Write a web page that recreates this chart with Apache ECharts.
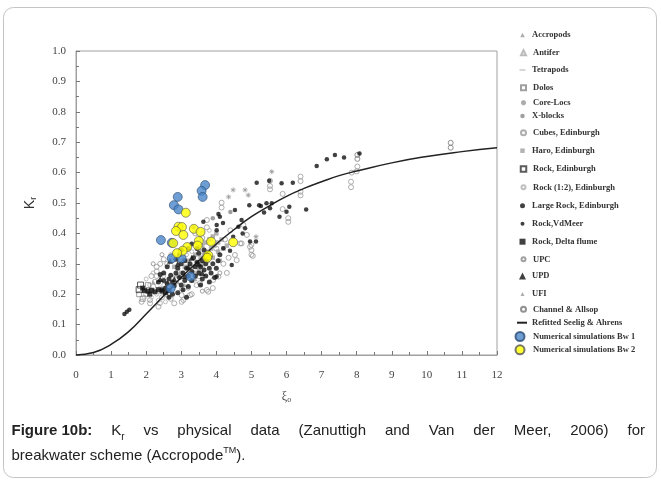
<!DOCTYPE html>
<html>
<head>
<meta charset="utf-8">
<script src="https://cdn.jsdelivr.net/npm/echarts@6/dist/echarts.min.js"></script>
<style>html,body{margin:0;padding:0;background:#fff;}#c{width:661px;height:481px;}</style>
</head>
<body>
<div id="c"></div>
<script>
// ---------- DATA ----------
const xTicks = [0,1,2,3,4,5,6,7,8,9,10,11,12];
const yTicks = [0,0.1,0.2,0.3,0.4,0.5,0.6,0.7,0.8,0.9,1.0];

const accropods = [[2.9,0.24],[3.2,0.27],[3.4,0.25],[2.7,0.23]];
const antifer = [[3.0,0.22],[3.5,0.26],[2.6,0.2]];
const tetrapods = [[3.3,0.24],[3.6,0.29],[2.8,0.26]];
const dolos = [[1.8,0.2],[2.05,0.23],[1.9,0.185]];
const coreLocs = [[5.58,0.603],[4.82,0.543],[4.91,0.526],[5.13,0.389],[4.48,0.543],[4.35,0.52]];
const xBlocks = [[3.9,0.45],[3.35,0.42],[4.4,0.47]];
const cubesEdinburgh = [[8.02,0.62],[8.0,0.604],[7.86,0.60],[7.84,0.57],[7.84,0.552],[6.4,0.587],[6.4,0.572],
  [6.4,0.537],[6.4,0.525],[5.53,0.545],[5.53,0.556],[5.89,0.53],[6.05,0.45],[6.05,0.438],[5.89,0.48],
  [5.0,0.362],[5.0,0.345],[5.0,0.33],[4.72,0.367],[4.87,0.395],[4.77,0.428],[5.53,0.573],[4.15,0.501],
  [4.15,0.485],[3.73,0.444],[3.73,0.42],[4.68,0.367],[4.96,0.356],[5.04,0.326],[4.58,0.312],[4.53,0.329],
  [4.06,0.258],[3.91,0.247],[3.73,0.214],[3.25,0.197],[3.01,0.197],[3.06,0.181],[2.3,0.29],[2.3,0.275],
  [2.3,0.26],[2.25,0.241],[2.11,0.181],[2.11,0.17],[1.87,0.175],[2.39,0.171],[2.35,0.159],[3.01,0.175],
  [3.44,0.23],[3.77,0.208],[3.53,0.236],[2.0,0.2],[2.2,0.225],[2.4,0.3],[2.5,0.315],[2.6,0.3],[2.15,0.26],
  [2.45,0.19],[2.7,0.185],[2.8,0.17],[3.3,0.2],[3.9,0.22],[4.2,0.3],[4.3,0.27],[4.35,0.32],[4.0,0.35],
  [3.85,0.37],[3.6,0.385],[3.4,0.4],[4.25,0.38],[4.4,0.41]];
const haro = [[3.4,0.33],[3.5,0.35],[3.6,0.36],[3.7,0.37],[3.8,0.38],[3.9,0.39],[4.0,0.4],[3.55,0.32],
  [3.65,0.33],[3.75,0.34],[3.85,0.35],[3.95,0.36],[4.05,0.37],[4.15,0.38],[3.45,0.3],[3.6,0.3],[3.75,0.31],
  [3.9,0.32],[4.05,0.34],[4.2,0.35],[3.3,0.29],[3.2,0.31],[3.1,0.29],[3.0,0.27],[2.9,0.26],[2.8,0.29],
  [3.35,0.27],[3.5,0.28],[4.1,0.31],[4.3,0.36]];
const rockEdinburgh = [[1.8,0.215],[1.84,0.23]];
const rock12 = [[2.0,0.25],[2.1,0.23],[2.2,0.21],[2.3,0.2],[2.4,0.22],[2.5,0.23],[2.2,0.27],[2.5,0.26],
  [2.6,0.21],[2.7,0.22],[2.35,0.18],[2.55,0.175],[1.95,0.19],[2.15,0.19],[2.75,0.31],[2.9,0.32],[3.0,0.32],
  [3.15,0.33],[2.7,0.33],[3.3,0.34],[3.6,0.4],[3.8,0.41]];
const largeRock = [[2.45,0.215],[2.55,0.22],[2.6,0.235],[2.65,0.25],[2.7,0.262],[2.75,0.24],[2.8,0.228],
  [2.85,0.27],[2.9,0.285],[2.95,0.255],[3.0,0.23],[3.0,0.30],[3.05,0.27],[3.1,0.245],[3.1,0.31],[3.15,0.285],
  [3.2,0.26],[3.2,0.225],[3.25,0.30],[3.3,0.275],[3.3,0.245],[3.35,0.32],[3.4,0.29],[3.4,0.26],[3.45,0.305],
  [3.5,0.27],[3.5,0.335],[3.55,0.29],[3.6,0.25],[3.6,0.31],[3.65,0.28],[3.7,0.3],[3.7,0.26],[3.75,0.325],
  [3.8,0.285],[3.85,0.27],[3.9,0.3],[3.95,0.255],[4.0,0.285],[4.05,0.31],[3.2,0.35],[3.3,0.365],[3.0,0.345],
  [2.85,0.315],[2.6,0.29],[2.5,0.27],[2.75,0.2],[2.9,0.205],[3.05,0.215],[2.65,0.19],[3.15,0.19],[2.5,0.245],
  [2.35,0.24],[2.4,0.265],[3.55,0.23],[3.8,0.24],[2.95,0.33],[3.45,0.35],[3.65,0.345],[4.1,0.33]];
const rockVdMeer = [[5.15,0.567],[5.51,0.573],[5.86,0.565],[6.18,0.567],[6.86,0.622],[7.15,0.644],[7.38,0.658],
  [7.64,0.65],[8.08,0.663],[4.94,0.493],[5.27,0.49],[5.36,0.469],[5.53,0.483],[5.58,0.499],[6.08,0.488],
  [6.0,0.471],[5.8,0.455],[6.56,0.479],[4.75,0.40],[4.96,0.373],[5.13,0.373],[5.22,0.493],[4.72,0.444],
  [4.06,0.464],[4.01,0.428],[3.63,0.438],[4.63,0.422],[4.82,0.417],[4.44,0.296],[4.39,0.343],[4.2,0.351],
  [4.53,0.477],[4.48,0.389],[4.19,0.434],[4.1,0.455],[4.01,0.41],[5.43,0.499],[4.01,0.258],
  [1.38,0.135],[1.45,0.142],[1.52,0.149]];
const rockDelta = [[1.95,0.212],[2.05,0.21],[2.15,0.213],[2.25,0.208],[2.35,0.215],[2.45,0.21],[2.55,0.205],
  [2.65,0.212],[1.9,0.22],[2.1,0.2]];
const upc = [[2.2,0.3],[2.45,0.33],[3.2,0.22],[3.6,0.21],[4.1,0.27]];
const upd = [[2.68,0.31],[2.9,0.3],[3.1,0.26],[3.3,0.32],[3.5,0.3],[2.8,0.25],[3.6,0.27],[2.4,0.25],[3.2,0.29],[3.7,0.32]];
const ufi = [[2.2,0.24],[2.6,0.24],[3.1,0.23]];
const channelAllsop = [[10.68,0.698],[10.68,0.682],[8.02,0.658],[8.02,0.645]];
const curveXi = [0,0.5,1,1.5,2,2.5,3,3.5,4,4.5,5,5.5,6,6.5,7,7.5,8,9,10,11,12];
const curveKr = [0,0.008,0.035,0.077,0.135,0.195,0.255,0.31,0.365,0.412,0.455,0.49,0.522,0.548,0.57,0.59,0.605,0.632,0.653,0.669,0.682];
const bw1 = [[3.68,0.559],[3.58,0.54],[3.61,0.52],[2.9,0.52],[2.79,0.493],[2.92,0.479],[2.42,0.378],[2.73,0.369],
  [2.73,0.318],[3.01,0.318],[3.27,0.258],[2.7,0.219]];
const bw2 = [[3.13,0.468],[2.92,0.422],[3.02,0.421],[2.85,0.408],[3.06,0.395],[2.77,0.368],[3.17,0.355],[3.04,0.343],
  [2.88,0.335],[3.36,0.415],[3.55,0.405],[3.5,0.375],[3.47,0.36],[3.85,0.373],[3.77,0.328],[3.74,0.32],[4.48,0.371]];

const legendNames = ['Accropods','Antifer','Tetrapods','Dolos','Core-Locs','X-blocks','Cubes, Edinburgh','Haro, Edinburgh',
  'Rock, Edinburgh','Rock (1:2), Edinburgh','Large Rock, Edinburgh','Rock,VdMeer','Rock, Delta flume','UPC','UPD','UFI',
  'Channel & Allsop','Refitted Seelig & Ahrens','Numerical simulations Bw 1','Numerical simulations Bw 2'];

// ---------- LAYOUT / STYLE ----------
const legendCenters = [35,52.7,70,87.7,102.7,116,132.7,150.7,169,187.3,205.7,223.7,241.7,259.3,276,294,309.3,322.7,336,349.3];
const open = (c)=>({color:'rgba(255,255,255,0)', borderColor:c, borderWidth:1});
const plus = 'path://M5,0L5,10M0,5L10,5M1.5,1.5L8.5,8.5M8.5,1.5L1.5,8.5';

const seriesDefs = [
  {name:legendNames[6], data:cubesEdinburgh, symbol:'circle', size:5, style:open('#9a9a9a'), icon:5},
  {name:legendNames[9], data:rock12, symbol:'circle', size:4, style:open('#b0b0b0'), icon:4},
  {name:legendNames[13], data:upc, symbol:'circle', size:4, style:open('#8a8a8a'), icon:4},
  {name:legendNames[16], data:channelAllsop, symbol:'circle', size:5, style:open('#777'), icon:5},
  {name:legendNames[3], data:dolos, symbol:'rect', size:5, style:open('#888'), icon:5},
  {name:legendNames[7], data:haro, symbol:'rect', size:4.5, style:{color:'#a0a0a0'}, icon:4.5},
  {name:legendNames[5], data:xBlocks, symbol:'circle', size:4.5, style:{color:'#888'}, icon:4.5},
  {name:legendNames[4], data:coreLocs, symbol:plus, size:5, style:{color:'#999', borderColor:'#999', borderWidth:1}, icon:5},
  {name:legendNames[0], data:accropods, symbol:'triangle', size:4.5, style:{color:'#999'}, icon:4.5},
  {name:legendNames[1], data:antifer, symbol:'triangle', size:5, style:open('#aaa'), icon:5},
  {name:legendNames[2], data:tetrapods, symbol:'rect', size:[6,1.2], style:{color:'#aaa'}, icon:[6,1.2]},
  {name:legendNames[15], data:ufi, symbol:'triangle', size:4, style:{color:'#999'}, icon:4},
];
const seriesDefs2 = [
  {name:legendNames[8], data:rockEdinburgh, symbol:'rect', size:6, style:open('#333'), icon:5.5},
  {name:legendNames[10], data:largeRock, symbol:'circle', size:5, style:{color:'#111'}, icon:5},
  {name:legendNames[11], data:rockVdMeer, symbol:'circle', size:4.5, style:{color:'#111'}, icon:4},
  {name:legendNames[12], data:rockDelta, symbol:'rect', size:5, style:{color:'#111'}, icon:6},
  {name:legendNames[14], data:upd, symbol:'triangle', size:6, style:{color:'#111'}, icon:7},
  {name:legendNames[18], data:bw1, symbol:'circle', size:9, style:{color:'#4a86c8', borderColor:'#2b4a70', borderWidth:0.8}, icon:9},
  {name:legendNames[19], data:bw2, symbol:'circle', size:9, style:{color:'#ffff00', borderColor:'#555', borderWidth:0.8}, icon:9},
];

const series = [];
const iconMap = {};
seriesDefs.forEach(d=>{
  series.push({type:'scatter', name:d.name, data:d.data, symbol:d.symbol, symbolSize:d.size, itemStyle:d.style, z:2});
  iconMap[d.name]=d;
});
series.push({type:'line', name:legendNames[17], data:curveXi.map((x,i)=>[x,curveKr[i]]), smooth:true, showSymbol:false,
  lineStyle:{color:'#222', width:1.5}, itemStyle:{color:'#222'}, z:3});
seriesDefs2.forEach(d=>{
  series.push({type:'scatter', name:d.name, data:d.data, symbol:d.symbol, symbolSize:d.size, itemStyle:d.style, z:4});
  iconMap[d.name]=d;
});

const textX = 532;
const legends = legendNames.map((n,i)=>{
  let iw, ih, icon;
  if (n === legendNames[17]) { iw = 10; ih = 2; icon = 'rect'; }
  else {
    const d = iconMap[n];
    if (Array.isArray(d.icon)) { iw = d.icon[0]; ih = d.icon[1]; } else { iw = d.icon; ih = d.icon; }
    icon = d.symbol;
  }
  const iconCenter = (i >= 18) ? 519 : 522.5;
  return {
    left: (n === legendNames[17]) ? 517 : iconCenter - iw/2, top: legendCenters[i] - 5, orient:'vertical', selectedMode:false,
    itemWidth: iw, itemHeight: ih, itemGap: 0,
    data:[{name:n, icon:icon, itemStyle: n===legendNames[17]?{color:'#222'}:undefined}],
    textStyle:{fontFamily:'"Liberation Serif", serif', fontSize:8.5, fontWeight:'bold', color:'#333', lineHeight:10,
      padding:[0,0,0, textX - 5 - ((n === legendNames[17]) ? 527 : iconCenter + iw/2)]},
    padding:0
  };
});

// caption (justified first line)
const cv = document.createElement('canvas').getContext('2d');
const mw = (t,f)=>{cv.font=f; return cv.measureText(t).width;};
const F = '15px "Liberation Sans"', FB = 'bold 15px "Liberation Sans"', FS = '10px "Liberation Sans"';
const words = ['Figure 10b:','K','vs','physical','data','(Zanuttigh','and','Van','der','Meer,','2006)','for'];
const wWidths = words.map((w,i)=> i===0 ? mw(w,FB) : (i===1 ? mw('K',F)+mw('r',FS) : mw(w,F)));
const lineL = 11.5, lineR = 645;
const gap = (lineR - lineL - wWidths.reduce((a,b)=>a+b,0)) / (words.length-1);
const graphics = [{type:'rect', shape:{x:3.5,y:7.5,width:653,height:470,r:10}, style:{fill:'none', stroke:'#c4c4c4', lineWidth:1}, silent:true}];
let cx = lineL;
words.forEach((w,i)=>{
  if (i===1) {
    graphics.push({type:'text', x:cx, y:431, style:{text:'K', font:F, fill:'#222', verticalAlign:'middle'}});
    graphics.push({type:'text', x:cx+mw('K',F), y:437, style:{text:'r', font:FS, fill:'#222', verticalAlign:'middle'}});
  } else {
    graphics.push({type:'text', x:cx, y:431, style:{text:w, font:i===0?FB:F, fill:'#222', verticalAlign:'middle'}});
  }
  cx += wWidths[i] + gap;
});
const l2a = 'breakwater scheme (Accropode';
graphics.push({type:'text', x:lineL, y:456, style:{text:l2a, font:F, fill:'#222', verticalAlign:'middle'}});
const tmX = lineL + mw(l2a,F);
graphics.push({type:'text', x:tmX, y:451, style:{text:'TM', font:'9px "Liberation Sans"', fill:'#222', verticalAlign:'middle'}});
graphics.push({type:'text', x:tmX + mw('TM','9px "Liberation Sans"'), y:456, style:{text:').', font:F, fill:'#222', verticalAlign:'middle'}});

const axisFont = {fontFamily:'"Liberation Serif", serif', fontSize:11, color:'#444'};
const chart = echarts.init(document.getElementById('c'), null, {renderer:'canvas'});
chart.setOption({
  animation:false,
  backgroundColor:'#fff',
  grid:{left:76, right:164, top:51, bottom:126, show:true, borderColor:'#a0a0a0', borderWidth:1},
  xAxis:{type:'value', min:xTicks[0], max:xTicks[xTicks.length-1], interval:1,
    axisLine:{lineStyle:{color:'#a0a0a0'}},
    axisTick:{inside:true, length:4, lineStyle:{color:'#777'}},
    minorTick:{show:true, splitNumber:2, length:3, lineStyle:{color:'#777'}},
    splitLine:{show:false},
    axisLabel:Object.assign({margin:15}, axisFont),
    name:'{a|ξ}{b|o}', nameLocation:'middle', nameGap:34,
    nameTextStyle:{rich:{a:{fontFamily:'"Liberation Serif", serif', fontSize:12, color:'#444'}, b:{fontFamily:'"Liberation Serif", serif', fontSize:8, color:'#444', padding:[7,0,0,0]}}}
  },
  yAxis:{type:'value', min:yTicks[0], max:yTicks[yTicks.length-1], interval:0.1,
    axisLine:{lineStyle:{color:'#a0a0a0'}},
    axisTick:{inside:true, length:4, lineStyle:{color:'#777'}},
    minorTick:{show:true, splitNumber:2, length:3, lineStyle:{color:'#777'}},
    splitLine:{show:false},
    axisLabel:Object.assign({margin:10, formatter:v=>v.toFixed(1)}, axisFont),
    name:'{a|K}{b|r}', nameLocation:'middle', nameGap:38,
    nameTextStyle:{rich:{a:{fontFamily:'"Liberation Sans", sans-serif', fontSize:14, color:'#333'}, b:{fontFamily:'"Liberation Sans", sans-serif', fontSize:9, color:'#333', padding:[7,0,0,0]}}}
  },
  legend:legends,
  series:series,
  graphic:graphics
});
</script>
</body>
</html>
